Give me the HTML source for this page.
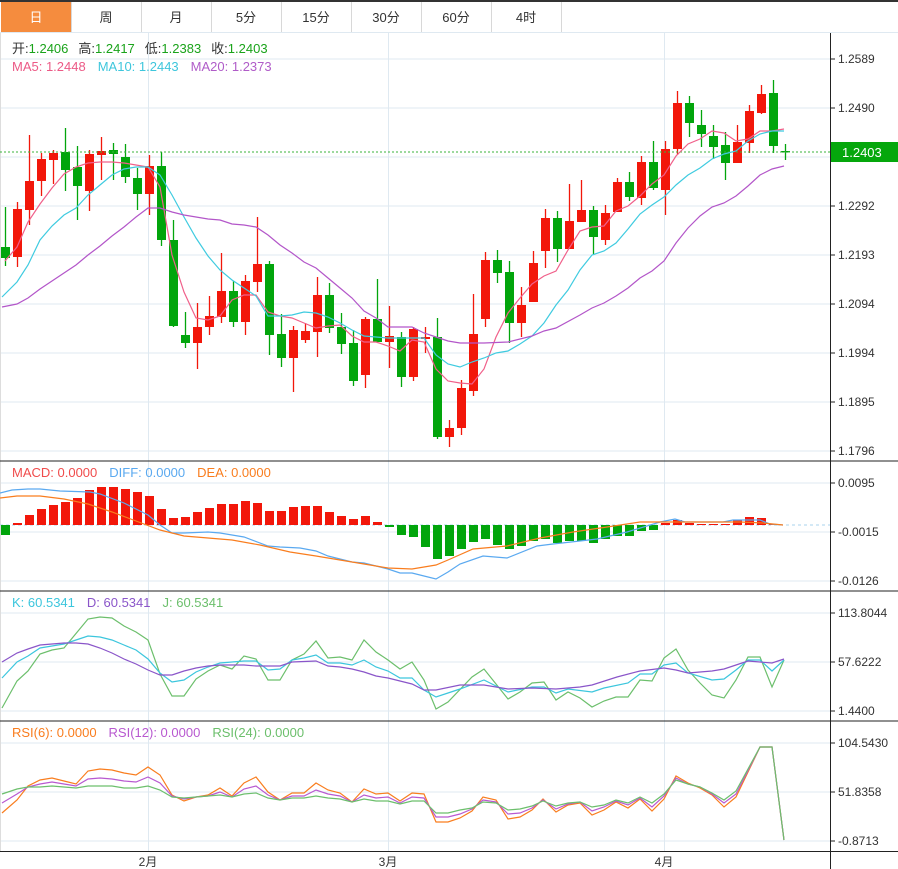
<!DOCTYPE html>
<html><head><meta charset="utf-8"><style>
html,body{margin:0;padding:0;background:#fff;}
svg{display:block;font-family:"Liberation Sans","Noto Sans CJK SC",sans-serif;}
</style></head><body>
<svg id="s" width="898" height="869" viewBox="0 0 898 869" xmlns="http://www.w3.org/2000/svg"></svg>
<script>
var s=document.getElementById('s');var h='';
function L(x1,y1,x2,y2,c,w,d){h+='<line x1="'+x1+'" y1="'+y1+'" x2="'+x2+'" y2="'+y2+'" stroke="'+c+'" stroke-width="'+(w||1)+'"'+(d?' stroke-dasharray="'+d+'"':'')+'/>';}
function R(x,y,w,hh,c){h+='<rect x="'+x+'" y="'+y+'" width="'+w+'" height="'+hh+'" fill="'+c+'"/>';}
function T(x,y,t,c,sz,a){h+='<text x="'+x+'" y="'+y+'" fill="'+c+'" font-size="'+(sz||12)+'"'+(a?' text-anchor="'+a+'"':'')+'>'+t+'</text>';}
function P(pts,c,w){h+='<polyline fill="none" stroke="'+c+'" stroke-width="'+(w||1.2)+'" points="'+pts.map(function(p){return p[0]+','+p[1]}).join(' ')+'"/>';}
var G='#dfe9f1';
// tabs
L(0,1,898,1,'#333',2);
R(1,2,70,30,'#f58c3e');
var tabs=['日','周','月','5分','15分','30分','60分','4时'];
for(var i=0;i<8;i++){var x=i*70+1;T(x+35,22,tabs[i],i?'#333':'#fff',13,'middle');L(x+70.5,2,x+70.5,32,'#d8d8d8');}
L(0,32.5,898,32.5,G);
// grids
[59,108,157,206,255,304,353,402,451,483,532,581,613,662,711,743,792,841].forEach(function(y){L(0,y,830,y,G);});
[148,388,664].forEach(function(x){L(x+.5,33,x+.5,851,G);});
L(0.5,33,0.5,851,'#ddd');
// panel borders
L(0,461,898,461,'#222');L(0,591,898,591,'#222');L(0,721,898,721,'#222');L(0,851.5,898,851.5,'#222');
L(830.5,33,830.5,869,'#222');
// right labels
var lab=[[59,'1.2589'],[108,'1.2490'],[206,'1.2292'],[255,'1.2193'],[304,'1.2094'],[353,'1.1994'],[402,'1.1895'],[451,'1.1796'],[483,'0.0095'],[532,'-0.0015'],[581,'-0.0126'],[613,'113.8044'],[662,'57.6222'],[711,'1.4400'],[743,'104.5430'],[792,'51.8358'],[841,'-0.8713']];
lab.forEach(function(a){L(830,a[0],835,a[0],'#222');T(838,a[0]+4,a[1],'#333',12);});
T(838,161,'1.2391','#333',12);
// months
T(148,866,'2月','#333',12,'middle');T(388,866,'3月','#333',12,'middle');T(664,866,'4月','#333',12,'middle');
// candles
var C=[['g',247,258,207,266],['r',209,257,202,267],['r',181,210,135,225],['r',159,181,153,196],['r',153,160,150,184],['g',152,170,128,191],['g',167,186,146,220],['r',154,191,150,211],['r',151,155,137,180],['g',150,154,143,180],['g',157,177,144,183],['g',178,194,168,210],['r',166,194,155,215],['g',166,240,152,246],['g',240,326,220,327],['g',335,343,312,348],['r',327,343,303,369],['r',316,327,296,335],['r',291,317,253,323],['g',291,322,281,327],['r',281,322,275,335],['r',264,282,217,292],['g',264,335,261,355],['g',334,358,314,367],['r',330,358,326,392],['r',331,340,323,343],['r',295,332,277,357],['g',295,328,283,333],['g',327,344,313,354],['g',343,381,330,386],['r',319,375,317,388],['g',319,342,279,342],['r',336,342,306,368],['g',337,377,332,387],['r',329,377,327,381],['r',337,339,327,353],
['g',337,437,318,439],['r',428,437,420,447],['r',388,428,380,435],['r',334,391,294,396],['r',260,319,252,327],['g',260,273,250,283],['g',272,323,261,343],['r',305,323,287,337],['r',263,302,251,302],['r',218,251,209,268],['g',218,249,211,262],['r',221,249,184,249],['r',210,222,180,222],['g',210,237,206,255],['r',213,240,205,245],['r',182,212,178,212],['g',182,197,172,201],['r',162,198,156,205],['g',162,188,141,190],['r',149,190,141,215],['r',103,149,91,155],['g',103,123,96,137],['g',125,134,110,147],['g',136,147,125,159],['g',145,163,132,180],['r',142,163,125,163],['r',111,143,105,153],['r',94,113,85,114],['g',93,146,80,153],['g',151,152,144,160]];
var RED='#f2170a',GRN='#02a50c';
C.forEach(function(c,i){var x=5+12*i;var col=c[0]=='r'?RED:GRN;L(x+.5,c[3],x+.5,c[4],col,1.3);R(x-4,c[1],9,Math.max(1.5,c[2]-c[1]),col);});
// dotted current price
L(0,152,830,152,'#3bb33b',1,'2,2');
R(831,142,67,20,'#05a70c');T(842,157,'1.2403','#fff',13);
function xs(a){return a.map(function(y,i){return [5+12*i,y];});}
P([[5,261],[17,247],[28,222],[40,204],[52,188],[64,174],[76,167],[88,163],[100,162],[112,162],[124,163],[136,165],[148,167],[160,187],[172,255],[184,292],[196,318],[208,320],[220,316],[232,300],[244,295],[256,295],[268,312],[280,316],[292,318],[304,323],[316,328],[328,326],[340,325],[352,336],[364,342],[376,342],[388,346],[400,351],[412,340],[424,342],[436,369],[448,381],[460,383],[472,384],[484,369],[496,337],[508,313],[520,298],[532,284],[544,276],[556,271],[568,250],[580,231],[592,227],[604,226],[616,211],[628,206],[640,196],[652,184],[664,175],[676,156],[688,144],[700,139],[712,131],[724,133],[736,141],[748,139],[760,131],[772,131],[784,129]],'#f0608a');
P([[2,297],[17,282],[28,265],[40,240],[52,226],[64,215],[76,208],[88,195],[100,185],[112,175],[124,169],[136,167],[148,167],[160,175],[172,195],[184,217],[196,238],[208,256],[220,270],[232,280],[244,288],[256,296],[268,316],[280,316],[292,315],[304,312],[316,313],[328,317],[340,323],[352,330],[364,336],[376,337],[388,338],[400,338],[412,338],[424,338],[436,355],[448,364],[460,367],[472,362],[484,358],[496,353],[508,351],[520,344],[532,336],[544,323],[556,305],[568,290],[580,270],[592,255],[604,251],[616,243],[628,229],[640,214],[652,205],[664,197],[676,185],[688,175],[700,168],[712,159],[724,154],[736,151],[748,141],[760,134],[772,131],[784,131]],'#3fcbe0');
P([[2,307],[17,304],[28,298],[40,289],[52,281],[64,273],[76,265],[88,255],[100,246],[112,236],[124,227],[136,217],[148,208],[160,208],[172,212],[184,215],[196,217],[208,219],[220,220],[232,224],[244,225],[256,227],[268,235],[280,245],[292,253],[304,262],[316,268],[328,278],[340,288],[352,298],[364,311],[376,318],[388,327],[400,327],[412,327],[424,333],[436,337],[448,341],[460,343],[484,343],[508,342],[532,336],[544,331],[556,328],[580,315],[592,308],[604,303],[616,296],[628,288],[640,278],[652,271],[664,261],[676,243],[688,228],[700,216],[712,207],[724,203],[736,196],[748,186],[760,175],[772,169],[784,166]],'#b356c9');
// legend main
h+='<text x="12" y="53" font-size="13"><tspan fill="#333">开:</tspan><tspan fill="#1aa31a">1.2406</tspan><tspan fill="#333" dx="10">高:</tspan><tspan fill="#1aa31a">1.2417</tspan><tspan fill="#333" dx="10">低:</tspan><tspan fill="#1aa31a">1.2383</tspan><tspan fill="#333" dx="10">收:</tspan><tspan fill="#1aa31a">1.2403</tspan></text>';
h+='<text x="12" y="71" font-size="13"><tspan fill="#ec5a86">MA5: 1.2448</tspan><tspan fill="#3ec6dc" dx="12">MA10: 1.2443</tspan><tspan fill="#b05cc8" dx="12">MA20: 1.2373</tspan></text>';
// MACD
L(0,525,830,525,'#a9d3ec',1,'3,3');
var M=[535,523,515,509,505,502,498,490,487,487,489,492,496,509,518,517,512,508,504,504,501,503,511,511,507,506,506,512,516,519,516,522,527,535,537,547,559,556,549,542,539,545,549,546,541,539,543,541,541,543,539,536,536,531,530,523,520,523,524,524,524,520,517,518,524,525];
M.forEach(function(y,i){var x=5+12*i;if(y<525)R(x-4,y,9,525-y,RED);else if(y>525)R(x-4,525,9,y-525,GRN);});
P([[0,493],[12,490],[28,489],[40,489],[60,491],[90,492],[100,494],[124,503],[148,515],[160,525],[172,533],[184,533],[208,532],[220,533],[232,535],[244,537],[268,546],[280,547],[300,548],[316,551],[328,556],[340,559],[352,562],[364,563],[376,566],[388,569],[400,573],[412,573],[424,576],[436,579],[448,572],[460,564],[483,556],[507,558],[537,546],[553,544],[580,541],[597,539],[627,532],[660,522],[675,519],[685,522],[723,522],[733,520],[760,520],[770,524],[783,525]],'#5aa9f0');
P([[0,498],[17,496],[40,496],[64,499],[88,504],[112,512],[136,521],[160,530],[184,536],[208,538],[232,540],[260,545],[290,552],[316,556],[340,560],[364,564],[388,568],[412,569],[436,565],[448,560],[473,549],[507,546],[540,538],[573,532],[607,527],[640,522],[673,522],[707,522],[740,522],[763,523],[783,525]],'#f97d1e');
h+='<text x="12" y="477" font-size="13"><tspan fill="#f04c4c">MACD: 0.0000</tspan><tspan fill="#5aa9f0" dx="12">DIFF: 0.0000</tspan><tspan fill="#f97d1e" dx="12">DEA: 0.0000</tspan></text>';
// KDJ
P([[2,708],[17,681],[28,671],[40,654],[52,650],[64,648],[88,619],[100,617],[112,618],[124,626],[136,632],[148,640],[160,674],[172,696],[184,696],[196,679],[208,671],[220,665],[232,669],[244,656],[256,659],[268,680],[280,680],[292,660],[304,654],[316,641],[328,658],[340,657],[352,660],[364,640],[376,652],[388,660],[400,669],[412,662],[424,680],[436,709],[448,702],[472,677],[484,669],[496,684],[508,699],[520,692],[532,683],[544,682],[556,700],[568,692],[580,698],[592,707],[604,701],[616,697],[628,697],[640,680],[652,681],[664,658],[676,649],[688,670],[700,683],[712,695],[724,698],[736,680],[748,657],[760,657],[772,687],[784,660]],'#6cbf6c');
P([[2,678],[17,662],[28,656],[40,648],[52,646],[64,644],[76,640],[88,636],[100,637],[112,640],[124,645],[136,650],[148,659],[160,673],[172,682],[184,680],[196,672],[208,667],[220,663],[232,662],[244,661],[256,661],[268,670],[280,669],[292,660],[304,658],[316,655],[328,663],[340,663],[352,665],[364,660],[376,667],[388,671],[400,678],[412,678],[424,690],[436,697],[448,693],[460,689],[484,680],[508,692],[532,687],[544,687],[556,693],[568,689],[592,692],[604,688],[628,683],[640,674],[652,674],[664,665],[676,663],[688,673],[712,680],[724,679],[736,670],[748,660],[760,660],[772,671],[784,660]],'#3cc6dd');
P([[2,662],[17,653],[28,649],[40,645],[52,644],[64,643],[76,643],[88,644],[100,648],[112,653],[124,659],[136,664],[148,670],[160,675],[172,675],[184,671],[196,668],[208,666],[220,665],[244,665],[256,666],[280,666],[292,662],[316,661],[328,666],[340,667],[352,669],[364,672],[376,676],[388,678],[400,681],[412,684],[424,690],[436,690],[460,685],[484,685],[508,689],[532,688],[556,689],[580,687],[592,685],[617,677],[640,671],[664,668],[676,670],[688,673],[712,671],[724,669],[736,665],[748,661],[760,662],[772,663],[784,659]],'#8a55c9');
h+='<text x="12" y="607" font-size="13"><tspan fill="#3cc6dd">K: 60.5341</tspan><tspan fill="#8a55c9" dx="12">D: 60.5341</tspan><tspan fill="#6cbf6c" dx="12">J: 60.5341</tspan></text>';
// RSI
var r6=[[2,813],[17,800],[28,786],[40,780],[52,778],[64,781],[76,784],[88,771],[100,769],[112,770],[124,773],[136,775],[148,767],[160,775],[172,795],[184,801],[196,797],[208,795],[220,788],[232,796],[244,783],[256,777],[268,792],[280,800],[292,793],[304,793],[316,783],[328,790],[340,793],[352,802],[364,789],[376,794],[388,793],[400,801],[412,793],[424,794],[436,822],[448,822],[460,818],[472,811],[483,797],[496,800],[508,819],[520,817],[532,810],[543,799],[556,812],[568,805],[580,803],[592,815],[604,810],[616,802],[628,808],[640,799],[652,811],[664,799],[676,776],[688,783],[700,788],[712,795],[724,807],[736,797],[760,747],[772,747],[784,840]];
var r24=[[2,794],[17,789],[28,787],[40,787],[52,786],[64,787],[76,788],[88,786],[100,786],[112,786],[124,788],[136,788],[148,786],[160,790],[172,797],[184,798],[196,797],[208,796],[220,795],[232,797],[244,794],[256,793],[268,798],[280,800],[292,798],[304,798],[316,796],[328,798],[340,799],[352,802],[364,799],[376,801],[388,801],[400,804],[412,801],[424,801],[436,813],[448,813],[460,810],[472,808],[483,802],[496,803],[508,810],[520,809],[532,806],[543,801],[556,806],[568,803],[580,802],[592,807],[604,805],[616,800],[628,803],[640,797],[652,803],[664,794],[676,780],[688,784],[700,787],[712,793],[724,800],[736,791],[760,747],[772,747],[784,840]];
var r12=r6.map(function(p,i){return [p[0],Math.round(0.45*p[1]+0.55*r24[i][1])];});
P(r6,'#f97d1e');P(r12,'#b859d0');P(r24,'#6cbf6c');
h+='<text x="12" y="737" font-size="13"><tspan fill="#f97d1e">RSI(6): 0.0000</tspan><tspan fill="#b859d0" dx="12">RSI(12): 0.0000</tspan><tspan fill="#6cbf6c" dx="12">RSI(24): 0.0000</tspan></text>';
s.innerHTML=h;
</script>
</body></html>
